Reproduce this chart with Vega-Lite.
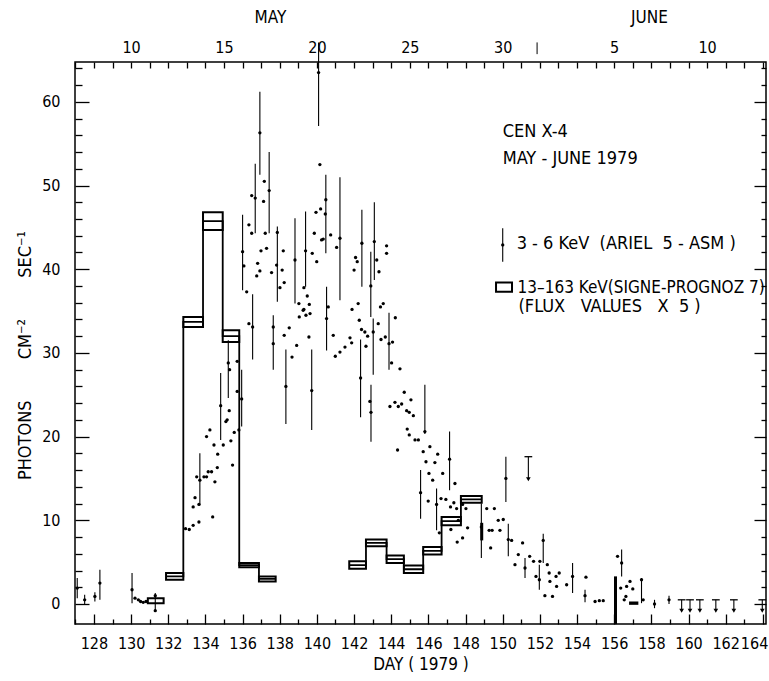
{
  "$schema": "https://vega.github.io/schema/vega-lite/v6.json",
  "width": 691,
  "height": 562,
  "autosize": "none",
  "padding": {"left": 75, "top": 62, "right": 3, "bottom": 57},
  "background": "white",
  "config": {
    "view": {"stroke": "black", "strokeWidth": 1.5},
    "font": "DejaVu Sans Condensed, sans-serif",
    "axis": {"grid": false, "domain": false, "tickColor": "black", "labelColor": "black", "titleColor": "black", "labelFont": "DejaVu Sans Condensed, sans-serif", "titleFont": "DejaVu Sans Condensed, sans-serif", "labelFontSize": 16, "titleFontSize": 17, "titleFontWeight": "normal", "labelOverlap": false, "labelFlush": false, "labelBound": false, "tickWidth": 1.3}
  },
  "datasets": {
    "dots": [
      {"day": 127.1, "v": 1.9}, {"day": 127.5, "v": 0.5}, {"day": 128.05, "v": 0.9}, {"day": 128.32, "v": 2.5},
      {"day": 130.05, "v": 1.7}, {"day": 130.21, "v": 0.7}, {"day": 130.39, "v": 0.5}, {"day": 130.51, "v": 0.3}, {"day": 130.65, "v": 0.2}, {"day": 130.8, "v": 0.3},
      {"day": 131.3, "v": 1.0}, {"day": 131.3, "v": -0.8},
      {"day": 132.93, "v": 9.0}, {"day": 133.13, "v": 8.9}, {"day": 133.34, "v": 9.4}, {"day": 133.65, "v": 9.8}, {"day": 133.34, "v": 11.6}, {"day": 133.65, "v": 11.9}, {"day": 133.44, "v": 12.7}, {"day": 133.53, "v": 15.2}, {"day": 133.7, "v": 14.8}, {"day": 133.92, "v": 15.2}, {"day": 134.06, "v": 15.2}, {"day": 134.15, "v": 15.8}, {"day": 134.33, "v": 15.8}, {"day": 134.51, "v": 14.6}, {"day": 134.06, "v": 20.0}, {"day": 134.24, "v": 20.8}, {"day": 134.46, "v": 19.0}, {"day": 134.66, "v": 17.9}, {"day": 134.64, "v": 16.3}, {"day": 134.39, "v": 10.4}, {"day": 134.82, "v": 23.7}, {"day": 134.96, "v": 19.0}, {"day": 135.1, "v": 21.8}, {"day": 135.17, "v": 22.0}, {"day": 135.28, "v": 23.1}, {"day": 135.37, "v": 19.5}, {"day": 135.46, "v": 16.6}, {"day": 135.55, "v": 20.5}, {"day": 135.23, "v": 28.8}, {"day": 135.3, "v": 28.0}, {"day": 135.71, "v": 29.0}, {"day": 135.71, "v": 25.4}, {"day": 135.95, "v": 24.5}, {"day": 135.8, "v": 20.8},
      {"day": 136.0, "v": 42.1}, {"day": 136.07, "v": 40.4}, {"day": 136.22, "v": 37.3}, {"day": 136.34, "v": 45.3}, {"day": 136.49, "v": 44.3}, {"day": 136.49, "v": 48.8}, {"day": 136.68, "v": 48.5}, {"day": 136.81, "v": 40.7}, {"day": 136.76, "v": 39.2}, {"day": 136.93, "v": 39.8}, {"day": 136.99, "v": 42.2}, {"day": 136.93, "v": 56.3}, {"day": 137.17, "v": 50.5}, {"day": 137.13, "v": 48.1}, {"day": 137.22, "v": 44.3}, {"day": 137.29, "v": 42.5}, {"day": 137.43, "v": 49.4}, {"day": 137.56, "v": 39.6}, {"day": 137.87, "v": 44.4}, {"day": 137.83, "v": 40.5}, {"day": 138.01, "v": 37.8}, {"day": 138.19, "v": 42.2}, {"day": 138.24, "v": 38.4}, {"day": 138.13, "v": 39.9},
      {"day": 136.34, "v": 33.5}, {"day": 136.54, "v": 33.1}, {"day": 137.65, "v": 33.1}, {"day": 137.65, "v": 31.1}, {"day": 138.24, "v": 32.1}, {"day": 138.51, "v": 33.0}, {"day": 138.66, "v": 29.5}, {"day": 138.91, "v": 30.9}, {"day": 138.33, "v": 26.0}, {"day": 139.72, "v": 25.5},
      {"day": 138.82, "v": 41.1}, {"day": 139.03, "v": 35.9}, {"day": 139.05, "v": 34.3}, {"day": 139.26, "v": 35.1}, {"day": 139.3, "v": 37.8}, {"day": 139.39, "v": 42.2}, {"day": 139.48, "v": 36.8}, {"day": 139.59, "v": 35.8}, {"day": 139.63, "v": 34.7}, {"day": 139.3, "v": 35.2}, {"day": 139.41, "v": 34.5}, {"day": 139.57, "v": 31.9}, {"day": 139.75, "v": 41.9}, {"day": 139.86, "v": 44.3}, {"day": 139.99, "v": 40.9}, {"day": 139.95, "v": 46.8}, {"day": 140.2, "v": 47.2}, {"day": 140.09, "v": 63.5}, {"day": 140.16, "v": 52.5}, {"day": 140.48, "v": 48.3}, {"day": 140.45, "v": 46.6}, {"day": 140.25, "v": 43.5}, {"day": 140.34, "v": 43.6}, {"day": 140.52, "v": 34.1}, {"day": 140.61, "v": 35.5}, {"day": 140.74, "v": 44.1}, {"day": 141.06, "v": 42.6}, {"day": 141.24, "v": 43.7},
      {"day": 140.88, "v": 32.1}, {"day": 140.99, "v": 29.6}, {"day": 141.24, "v": 30.1}, {"day": 141.51, "v": 30.7}, {"day": 141.78, "v": 31.8}, {"day": 141.87, "v": 31.2}, {"day": 141.89, "v": 35.2}, {"day": 142.22, "v": 35.9}, {"day": 142.28, "v": 33.9}, {"day": 142.4, "v": 32.8}, {"day": 142.58, "v": 32.5}, {"day": 142.73, "v": 32.0}, {"day": 142.64, "v": 30.8}, {"day": 142.0, "v": 39.9}, {"day": 142.17, "v": 40.9}, {"day": 142.08, "v": 41.4}, {"day": 142.42, "v": 43.1}, {"day": 142.9, "v": 38.0}, {"day": 143.09, "v": 43.3}, {"day": 143.22, "v": 41.1}, {"day": 143.34, "v": 39.7}, {"day": 143.75, "v": 42.8}, {"day": 143.75, "v": 41.9}, {"day": 143.03, "v": 32.5}, {"day": 143.3, "v": 33.5}, {"day": 143.42, "v": 35.5}, {"day": 143.57, "v": 35.9}, {"day": 143.68, "v": 31.9}, {"day": 143.45, "v": 31.6}, {"day": 143.88, "v": 31.1}, {"day": 144.07, "v": 31.3}, {"day": 144.22, "v": 34.2}, {"day": 144.02, "v": 28.8}, {"day": 144.47, "v": 28.1},
      {"day": 142.35, "v": 27.0}, {"day": 142.85, "v": 24.2}, {"day": 142.91, "v": 22.9}, {"day": 143.93, "v": 23.6}, {"day": 144.2, "v": 24.1}, {"day": 144.38, "v": 23.6}, {"day": 144.56, "v": 23.9}, {"day": 144.7, "v": 25.3}, {"day": 144.83, "v": 23.1}, {"day": 144.97, "v": 22.9}, {"day": 145.06, "v": 24.4}, {"day": 145.19, "v": 22.5}, {"day": 144.86, "v": 20.9}, {"day": 144.97, "v": 20.2}, {"day": 145.28, "v": 19.6}, {"day": 145.46, "v": 19.6}, {"day": 145.81, "v": 20.6}, {"day": 144.34, "v": 18.4},
      {"day": 145.58, "v": 13.3}, {"day": 145.72, "v": 18.2}, {"day": 146.08, "v": 18.8}, {"day": 146.5, "v": 17.9}, {"day": 145.87, "v": 17.0}, {"day": 146.35, "v": 16.9}, {"day": 146.03, "v": 15.6}, {"day": 146.23, "v": 14.8}, {"day": 146.77, "v": 15.6}, {"day": 147.14, "v": 17.3}, {"day": 147.43, "v": 14.4}, {"day": 145.99, "v": 12.3}, {"day": 146.44, "v": 11.9}, {"day": 146.68, "v": 12.6}, {"day": 146.94, "v": 12.5}, {"day": 147.19, "v": 11.6}, {"day": 147.37, "v": 12.1}, {"day": 147.52, "v": 11.4}, {"day": 147.84, "v": 11.9}, {"day": 148.02, "v": 11.4}, {"day": 147.61, "v": 10.0}, {"day": 147.21, "v": 8.9}, {"day": 147.55, "v": 7.4}, {"day": 147.84, "v": 7.9}, {"day": 148.11, "v": 9.1}, {"day": 146.59, "v": 8.5},
      {"day": 148.85, "v": 9.2}, {"day": 149.14, "v": 11.4}, {"day": 149.55, "v": 11.4}, {"day": 149.27, "v": 8.8}, {"day": 149.43, "v": 8.8}, {"day": 149.35, "v": 6.7}, {"day": 149.76, "v": 10.0}, {"day": 149.85, "v": 8.8}, {"day": 150.03, "v": 10.1}, {"day": 150.17, "v": 15.0}, {"day": 150.3, "v": 7.7}, {"day": 150.48, "v": 7.6}, {"day": 150.66, "v": 4.7}, {"day": 150.84, "v": 5.9}, {"day": 151.07, "v": 7.3}, {"day": 151.2, "v": 4.3}, {"day": 151.45, "v": 5.7}, {"day": 151.66, "v": 5.1}, {"day": 151.79, "v": 3.3}, {"day": 151.97, "v": 2.9}, {"day": 152.0, "v": 5.1}, {"day": 152.18, "v": 7.6}, {"day": 152.4, "v": 4.7}, {"day": 152.5, "v": 3.7}, {"day": 152.54, "v": 2.7}, {"day": 152.68, "v": 0.9}, {"day": 152.27, "v": 1.0}, {"day": 152.87, "v": 3.3}, {"day": 153.04, "v": 3.7}, {"day": 152.9, "v": 2.1}, {"day": 153.44, "v": 2.3}, {"day": 153.76, "v": 3.3}, {"day": 154.43, "v": 1.0}, {"day": 154.48, "v": 3.2}, {"day": 154.97, "v": 0.3}, {"day": 155.2, "v": 0.4}, {"day": 155.41, "v": 0.4},
      {"day": 156.18, "v": 5.7}, {"day": 156.4, "v": 4.9}, {"day": 156.35, "v": 1.9}, {"day": 156.54, "v": 0.5}, {"day": 156.67, "v": 2.1}, {"day": 156.85, "v": 2.7}, {"day": 157.0, "v": 1.8}, {"day": 156.63, "v": 0.9}, {"day": 157.47, "v": 2.9}, {"day": 157.56, "v": 0.5}, {"day": 158.17, "v": 0.0}, {"day": 158.95, "v": 0.5}
    ],
    "bars": [
      {"day": 127.1, "lo": 0.7, "hi": 3.1}, {"day": 127.5, "lo": -0.1, "hi": 1.1}, {"day": 128.05, "lo": 0.3, "hi": 1.4}, {"day": 128.32, "lo": 0.5, "hi": 4.1}, {"day": 130.05, "lo": 0.1, "hi": 3.7}, {"day": 131.3, "lo": -0.9, "hi": 1.3},
      {"day": 133.7, "lo": 11.8, "hi": 18.0}, {"day": 134.82, "lo": 19.6, "hi": 27.6}, {"day": 135.23, "lo": 24.6, "hi": 31.5}, {"day": 135.95, "lo": 21.2, "hi": 28.0}, {"day": 136.0, "lo": 37.5, "hi": 46.5}, {"day": 136.68, "lo": 44.3, "hi": 52.6}, {"day": 136.93, "lo": 51.3, "hi": 61.2}, {"day": 137.43, "lo": 44.3, "hi": 54.0}, {"day": 137.87, "lo": 36.1, "hi": 45.1}, {"day": 136.54, "lo": 29.2, "hi": 37.0}, {"day": 137.65, "lo": 28.0, "hi": 34.5}, {"day": 138.33, "lo": 21.5, "hi": 30.4}, {"day": 139.72, "lo": 20.8, "hi": 30.4}, {"day": 138.82, "lo": 35.9, "hi": 46.1}, {"day": 139.39, "lo": 37.9, "hi": 46.9}, {"day": 140.09, "lo": 57.1, "hi": 67.1}, {"day": 140.48, "lo": 41.9, "hi": 51.3}, {"day": 140.52, "lo": 30.3, "hi": 37.9}, {"day": 141.24, "lo": 36.3, "hi": 51.0}, {"day": 142.42, "lo": 37.9, "hi": 47.1}, {"day": 142.9, "lo": 34.3, "hi": 42.1}, {"day": 143.09, "lo": 38.7, "hi": 48.0}, {"day": 143.03, "lo": 27.4, "hi": 34.1}, {"day": 143.88, "lo": 28.0, "hi": 34.8}, {"day": 142.35, "lo": 22.3, "hi": 31.6}, {"day": 142.91, "lo": 19.4, "hi": 26.2}, {"day": 145.81, "lo": 20.3, "hi": 26.2}, {"day": 145.58, "lo": 10.2, "hi": 16.0}, {"day": 147.14, "lo": 13.6, "hi": 20.6}, {"day": 146.44, "lo": 8.8, "hi": 13.8}, {"day": 148.85, "lo": 5.5, "hi": 12.0}, {"day": 150.17, "lo": 12.2, "hi": 17.6}, {"day": 150.3, "lo": 5.7, "hi": 9.6}, {"day": 151.2, "lo": 3.1, "hi": 5.5}, {"day": 151.97, "lo": 1.7, "hi": 4.7}, {"day": 152.18, "lo": 4.9, "hi": 8.4}, {"day": 153.76, "lo": 1.3, "hi": 4.9}, {"day": 154.43, "lo": 0.2, "hi": 1.7}, {"day": 156.4, "lo": 3.3, "hi": 6.5}, {"day": 157.47, "lo": 0.1, "hi": 3.1}, {"day": 158.17, "lo": -0.5, "hi": 0.5}, {"day": 158.95, "lo": 0.0, "hi": 1.0}
    ],
    "thick": [
      {"day": 148.87, "lo": 7.6, "hi": 9.7}, {"day": 156.07, "lo": -2.4, "hi": 3.3}
    ],
    "limits": [
      {"day": 151.38, "top": 17.6, "tip": 14.9}, {"day": 159.63, "top": 0.5, "tip": -0.8}, {"day": 160.08, "top": 0.5, "tip": -0.8}, {"day": 160.61, "top": 0.5, "tip": -0.8}, {"day": 161.47, "top": 0.5, "tip": -0.8}, {"day": 162.44, "top": 0.5, "tip": -0.8}, {"day": 163.97, "top": 0.5, "tip": -0.8}
    ],
    "boxes": [
      {"d0": 130.9, "d1": 131.75, "lo": 0.1, "hi": 0.7}, {"d0": 131.88, "d1": 132.81, "lo": 2.9, "hi": 3.7}, {"d0": 132.81, "d1": 133.87, "lo": 33.1, "hi": 34.3}, {"d0": 133.87, "d1": 134.93, "lo": 44.7, "hi": 46.8}, {"d0": 134.93, "d1": 135.82, "lo": 31.3, "hi": 32.7}, {"d0": 135.82, "d1": 136.88, "lo": 4.4, "hi": 4.9}, {"d0": 136.88, "d1": 137.78, "lo": 2.7, "hi": 3.3},
      {"d0": 141.74, "d1": 142.64, "lo": 4.2, "hi": 5.1}, {"d0": 142.64, "d1": 143.75, "lo": 6.9, "hi": 7.7}, {"d0": 143.75, "d1": 144.68, "lo": 4.9, "hi": 5.8}, {"d0": 144.68, "d1": 145.72, "lo": 3.7, "hi": 4.6}, {"d0": 145.72, "d1": 146.71, "lo": 5.9, "hi": 6.8}, {"d0": 146.71, "d1": 147.75, "lo": 9.4, "hi": 10.4}, {"d0": 147.75, "d1": 148.87, "lo": 12.1, "hi": 12.9}
    ],
    "steps": [
      {"g": "a", "day": 131.88, "v": 3.3}, {"g": "a", "day": 132.81, "v": 33.7}, {"g": "a", "day": 133.87, "v": 45.75}, {"g": "a", "day": 134.93, "v": 32.0}, {"g": "a", "day": 135.82, "v": 4.65}, {"g": "a", "day": 136.88, "v": 3.0}, {"g": "a", "day": 137.78, "v": 3.0},
      {"g": "b", "day": 141.74, "v": 4.65}, {"g": "b", "day": 142.64, "v": 7.3}, {"g": "b", "day": 143.75, "v": 5.35}, {"g": "b", "day": 144.68, "v": 4.15}, {"g": "b", "day": 145.72, "v": 6.35}, {"g": "b", "day": 146.71, "v": 9.9}, {"g": "b", "day": 147.75, "v": 12.5}, {"g": "b", "day": 148.87, "v": 12.5}
    ],
    "solid": [{"d0": 156.8, "d1": 157.3, "lo": -0.1, "hi": 0.3}],
    "legendBar": [{"day": 150.0, "lo": 40.9, "hi": 44.9, "v": 42.9}],
    "legendBox": [{"d0": 149.64, "d1": 150.5, "lo": 37.3, "hi": 38.4}],
    "notes": [
      {"day": 150.0, "v": 56.4, "t": "CEN X-4"},
      {"day": 150.0, "v": 53.2, "t": "MAY - JUNE 1979"},
      {"day": 150.75, "v": 43.0, "t": "3 - 6 KeV\u00a0 (ARIEL\u00a0 5 - ASM\u00a0)"},
      {"day": 150.85, "v": 35.5, "t": "(FLUX\u00a0\u00a0 VALUES\u00a0\u00a0 X\u00a0 5 )"}
    ],
    "notes2": [
      {"day": 150.8, "v": 37.8, "t": "13–163 KeV(SIGNE-PROGNOZ 7)"}
    ],
    "months": [{"day": 137.5, "v": 70.0, "t": "MAY"}, {"day": 157.9, "v": 70.0, "t": "JUNE"}],
    "marker": [{"day": 151.85, "lo": 65.7, "hi": 67.1}]
  },
  "layer": [
    {
      "data": {"name": "boxes"},
      "mark": {"type": "rect", "filled": false, "stroke": "black", "strokeWidth": 2},
      "encoding": {
        "x": {"field": "d0", "type": "quantitative", "scale": {"domain": [126.98, 164.17], "nice": false, "zero": false},
          "axis": {"orient": "top", "values": [127,128,129,130,131,132,133,134,135,136,137,138,139,140,141,142,143,144,145,146,147,148,149,150,151,152,153,154,155,156,157,158,159,160,161,162,163,164], "tickSize": -6, "labelPadding": 13, "title": null,
            "labelExpr": "datum.value == 130 ? '10' : datum.value == 135 ? '15' : datum.value == 140 ? '20' : datum.value == 145 ? '25' : datum.value == 150 ? '30' : datum.value == 156 ? '5' : datum.value == 161 ? '10' : ''"}},
        "x2": {"field": "d1"},
        "y": {"field": "lo", "type": "quantitative", "scale": {"domain": [-2.39, 64.76], "nice": false, "zero": false},
          "axis": {"orient": "right", "values": [0,10,20,30,40,50,60], "tickSize": -12, "labels": false, "title": null}},
        "y2": {"field": "hi"}
      }
    },
    {
      "data": {"name": "steps"},
      "mark": {"type": "line", "interpolate": "step-after", "stroke": "black", "strokeWidth": 1.8},
      "encoding": {
        "x": {"field": "day", "type": "quantitative", "axis": null},
        "y": {"field": "v", "type": "quantitative",
          "axis": {"orient": "right", "values": [2,4,6,8,12,14,16,18,22,24,26,28,32,34,36,38,42,44,46,48,52,54,56,58,62,64], "tickSize": -5, "labels": false, "title": null}},
        "detail": {"field": "g"}
      }
    },
    {
      "data": {"name": "bars"},
      "mark": {"type": "rule", "stroke": "black", "strokeWidth": 1.1},
      "encoding": {
        "x": {"field": "day", "type": "quantitative",
          "axis": {"orient": "bottom", "values": [128,130,132,134,136,138,140,142,144,146,148,150,152,154,156,158,160,162,164], "tickSize": -10, "labelPadding": 21, "title": "DAY ( 1979 )", "titlePadding": 5,
            "labelAlign": {"condition": {"test": "datum.value == 164", "value": "right"}, "value": "center"},
            "labelOffset": {"condition": {"test": "datum.value == 164", "value": 5}, "value": 0}}},
        "y": {"field": "lo", "type": "quantitative",
          "axis": {"orient": "left", "values": [0,10,20,30,40,50,60], "tickSize": -14, "labelPadding": 29, "title": "PHOTONS\u00a0\u00a0\u00a0\u00a0\u00a0\u00a0\u00a0 CM⁻²\u00a0\u00a0\u00a0\u00a0\u00a0\u00a0\u00a0 SEC⁻¹", "titleFontSize": 18, "titlePadding": 7, "titleY": 293}},
        "y2": {"field": "hi"}
      }
    },
    {
      "data": {"name": "dots"},
      "mark": {"type": "point", "filled": true, "color": "black", "size": 11, "opacity": 1},
      "encoding": {
        "x": {"field": "day", "type": "quantitative",
          "axis": {"orient": "bottom", "values": [127,129,131,133,135,137,139,141,143,145,147,149,151,153,155,157,159,161,163], "tickSize": -5, "labels": false, "title": null}},
        "y": {"field": "v", "type": "quantitative",
          "axis": {"orient": "left", "values": [2,4,6,8,12,14,16,18,22,24,26,28,32,34,36,38,42,44,46,48,52,54,56,58,62,64], "tickSize": -7, "labels": false, "title": null}}
      }
    },
    {
      "data": {"name": "thick"},
      "mark": {"type": "rule", "stroke": "black", "strokeWidth": 3},
      "encoding": {"x": {"field": "day", "type": "quantitative", "axis": null}, "y": {"field": "lo", "type": "quantitative", "axis": null}, "y2": {"field": "hi"}}
    },
    {
      "data": {"name": "limits"},
      "mark": {"type": "rule", "stroke": "black", "strokeWidth": 1.1},
      "encoding": {"x": {"field": "day", "type": "quantitative", "axis": null}, "y": {"field": "top", "type": "quantitative", "axis": null}, "y2": {"field": "tip"}}
    },
    {
      "data": {"name": "limits"},
      "mark": {"type": "point", "shape": "triangle-down", "filled": true, "color": "black", "size": 22, "opacity": 1},
      "encoding": {"x": {"field": "day", "type": "quantitative", "axis": null}, "y": {"field": "tip", "type": "quantitative", "axis": null}}
    },
    {
      "data": {"name": "limits"},
      "mark": {"type": "point", "shape": "M-1,0L1,0", "filled": false, "stroke": "black", "strokeWidth": 1.3, "size": 60, "opacity": 1},
      "encoding": {"x": {"field": "day", "type": "quantitative", "axis": null}, "y": {"field": "top", "type": "quantitative", "axis": null}}
    },
    {
      "data": {"name": "solid"},
      "mark": {"type": "rect", "color": "black"},
      "encoding": {"x": {"field": "d0", "type": "quantitative", "axis": null}, "x2": {"field": "d1"}, "y": {"field": "lo", "type": "quantitative", "axis": null}, "y2": {"field": "hi"}}
    },
    {
      "data": {"name": "legendBar"},
      "mark": {"type": "rule", "stroke": "black", "strokeWidth": 1.1},
      "encoding": {"x": {"field": "day", "type": "quantitative", "axis": null}, "y": {"field": "lo", "type": "quantitative", "axis": null}, "y2": {"field": "hi"}}
    },
    {
      "data": {"name": "legendBar"},
      "mark": {"type": "point", "filled": true, "color": "black", "size": 11, "opacity": 1},
      "encoding": {"x": {"field": "day", "type": "quantitative", "axis": null}, "y": {"field": "v", "type": "quantitative", "axis": null}}
    },
    {
      "data": {"name": "legendBox"},
      "mark": {"type": "rect", "filled": false, "stroke": "black", "strokeWidth": 2},
      "encoding": {"x": {"field": "d0", "type": "quantitative", "axis": null}, "x2": {"field": "d1"}, "y": {"field": "lo", "type": "quantitative", "axis": null}, "y2": {"field": "hi"}}
    },
    {
      "data": {"name": "marker"},
      "mark": {"type": "rule", "stroke": "black", "strokeWidth": 1},
      "encoding": {"x": {"field": "day", "type": "quantitative", "axis": null}, "y": {"field": "lo", "type": "quantitative", "axis": null}, "y2": {"field": "hi"}}
    },
    {
      "data": {"name": "notes"},
      "mark": {"type": "text", "align": "left", "baseline": "middle", "fontSize": 18, "color": "black"},
      "encoding": {"x": {"field": "day", "type": "quantitative", "axis": null}, "y": {"field": "v", "type": "quantitative", "axis": null}, "text": {"field": "t"}}
    },
    {
      "data": {"name": "notes2"},
      "mark": {"type": "text", "align": "left", "baseline": "middle", "fontSize": 17, "color": "black"},
      "encoding": {"x": {"field": "day", "type": "quantitative", "axis": null}, "y": {"field": "v", "type": "quantitative", "axis": null}, "text": {"field": "t"}}
    },
    {
      "data": {"name": "months"},
      "mark": {"type": "text", "align": "center", "baseline": "middle", "fontSize": 17, "color": "black"},
      "encoding": {"x": {"field": "day", "type": "quantitative", "axis": null}, "y": {"field": "v", "type": "quantitative", "axis": null}, "text": {"field": "t"}}
    }
  ],
  "resolve": {"axis": {"x": "independent", "y": "independent"}}
}
